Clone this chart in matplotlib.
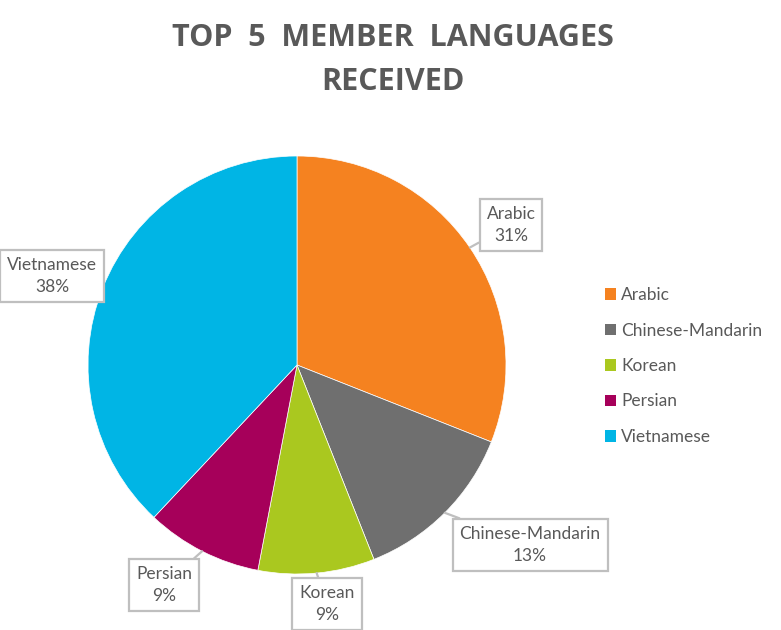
import numpy as np
import matplotlib
matplotlib.use("Agg")
import matplotlib.pyplot as plt
from matplotlib.patches import Patch

languages = ["Arabic", "Chinese-Mandarin", "Korean", "Persian", "Vietnamese"]
shares = [31, 13, 9, 9, 38]
colors = ["#F58220", "#6F6F6F", "#AAC81F", "#A6005A", "#00B5E5"]

# label box centres (axes data units, pie radius = 1)
label_pos = [(1.024, 0.670), (1.115, -0.861), (0.144, -1.144), (-0.636, -1.053), (-1.172, 0.426)]

txt = "#595959"
plt.rcParams["font.family"] = ["Lato", "DejaVu Sans"]

W, H = 781, 630
fig = plt.figure(figsize=(W / 100, H / 100), dpi=100)

# pie axes: centre (297,365) px, radius 209 px
cx, cy, r = 297, 365, 209
ax = fig.add_axes([(cx - r) / W, (H - cy - r) / H, 2 * r / W, 2 * r / H])
wedges, _ = ax.pie(shares, colors=colors, startangle=90, counterclock=False,
                   radius=1, wedgeprops=dict(edgecolor="white", linewidth=0.5))
ax.set_xlim(-1, 1)
ax.set_ylim(-1, 1)
ax.axis("off")

for w, name, val, (lx, ly) in zip(wedges, languages, shares, label_pos):
    mid = np.deg2rad((w.theta1 + w.theta2) / 2)
    ex, ey = np.cos(mid), np.sin(mid)
    ax.annotate(f"{name}\n{val}%", xy=(ex, ey), xytext=(lx, ly),
                ha="center", va="center", fontsize=12.5, color=txt,
                linespacing=1.45, annotation_clip=False,
                bbox=dict(boxstyle="square,pad=0.4", fc="white", ec="#BFBFBF", lw=1.6),
                arrowprops=dict(arrowstyle="-", color="#BFBFBF", lw=1.6,
                                shrinkA=0, shrinkB=0))

fig.text(393 / W, 1 - 60 / H, "TOP  5  MEMBER  LANGUAGES\nRECEIVED", ha="center", va="center",
         fontsize=22, fontweight="bold", color=txt, linespacing=1.62,
         family=["Open Sans", "DejaVu Sans"])

handles = [Patch(facecolor=c, edgecolor="none") for c in colors]
fig.legend(handles, languages, loc="center left", bbox_to_anchor=(598 / W, 1 - 366 / H),
           frameon=False, fontsize=12.5, labelcolor=txt, handlelength=0.65, handleheight=0.65,
           handletextpad=0.3, labelspacing=1.12, borderaxespad=0)

fig.savefig("out.png", dpi=100, facecolor="white")
